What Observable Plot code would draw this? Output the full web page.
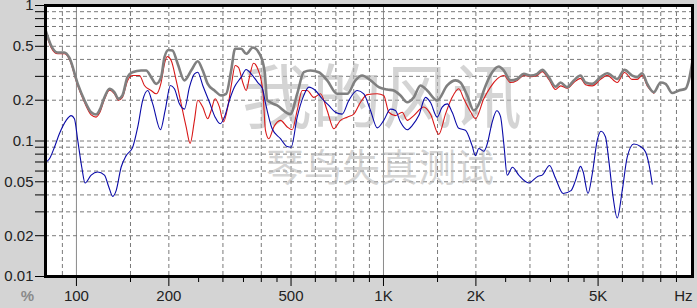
<!DOCTYPE html>
<html>
<head>
<meta charset="utf-8">
<script src="https://cdn.jsdelivr.net/npm/d3@7"></script>
<script src="https://cdn.jsdelivr.net/npm/@observablehq/plot@0.6"></script>
<style>
  html, body { margin: 0; padding: 0; background: #d4d4d4; }
  #chart { width: 697px; height: 308px; overflow: hidden; }
  svg { display: block; }
</style>
</head>
<body>
<div id="chart"></div>
<script>
// ---- data (frequency in Hz, value in %) ----
const grayFreq = [79.5, 82.7, 86.9, 91.4, 94.9, 101, 106.2, 111.7, 115.9, 118.8, 123.4, 128.1, 133, 137, 141.2, 146.6, 152.2, 162.5, 168.7, 175.1, 181.8, 188.7, 193.5, 199.4, 205.5, 213.8, 224.8, 236.4, 248.4, 257.9, 267.7, 281.6, 296.1, 307.4, 319.1, 328.8, 344, 357.2, 375.3, 394.7, 409.8, 418.2, 450.5, 497.8, 523.6, 550.2, 578.5, 615.6, 655.6, 706.8, 761.7, 810.6, 852.4, 907.3, 965.4, 1028, 1080, 1136, 1195, 1255, 1320, 1388, 1496, 1613, 1716, 1781, 1873, 1968, 2070, 2122, 2260, 2375, 2466, 2592, 2726, 2864, 3012, 3168, 3289, 3455, 3634, 3773, 3966, 4168, 4383, 4550, 4785, 5092, 5353, 5771, 6095, 6458, 6705, 6962, 7228, 7596, 7987, 8293, 8717, 9161, 9632, 9874, 10130];
const grayVal = [0.65, 0.507, 0.45, 0.45, 0.41, 0.264, 0.2, 0.163, 0.157, 0.168, 0.21, 0.243, 0.229, 0.205, 0.217, 0.296, 0.322, 0.331, 0.331, 0.296, 0.264, 0.296, 0.415, 0.47, 0.466, 0.37, 0.28, 0.331, 0.388, 0.331, 0.264, 0.236, 0.217, 0.223, 0.331, 0.48, 0.48, 0.44, 0.49, 0.44, 0.33, 0.2, 0.183, 0.158, 0.223, 0.322, 0.331, 0.322, 0.28, 0.223, 0.223, 0.28, 0.304, 0.28, 0.25, 0.24, 0.236, 0.217, 0.193, 0.21, 0.257, 0.236, 0.199, 0.257, 0.28, 0.27, 0.217, 0.168, 0.2, 0.236, 0.322, 0.355, 0.331, 0.28, 0.287, 0.313, 0.304, 0.313, 0.335, 0.296, 0.252, 0.27, 0.25, 0.28, 0.304, 0.27, 0.264, 0.296, 0.316, 0.287, 0.335, 0.304, 0.296, 0.316, 0.264, 0.229, 0.27, 0.264, 0.226, 0.236, 0.243, 0.28, 0.38];

const redFreq = [79.5, 82.7, 86.9, 91.4, 94.9, 101, 106.2, 111.7, 115.9, 118.8, 123.4, 128.1, 133, 137, 141.2, 146.9, 152.5, 160.4, 166.5, 175.1, 181.8, 188.7, 193.5, 197.5, 203.5, 211.3, 219.3, 227.7, 234.6, 242.3, 248.4, 257.9, 267.7, 274.7, 283, 292.3, 301.2, 311, 320.5, 328.8, 337.1, 348.1, 357.2, 366.1, 377.3, 389.7, 404.5, 412.8, 423.2, 439.3, 461.9, 485.7, 504.3, 523.6, 543.7, 564.4, 592.9, 623.4, 655.6, 689, 724.4, 761.7, 800.5, 841.7, 885, 954.4, 1002, 1041, 1094, 1151, 1195, 1255, 1353, 1422, 1514, 1592, 1674, 1759, 1826, 1920, 1993, 2122, 2231, 2346, 2466, 2592, 2726, 2864, 3012, 3168, 3289, 3455, 3634, 3773, 3966, 4168, 4383, 4550, 4785, 5092, 5353, 5771, 6095, 6458, 6705, 6962, 7228, 7596];
const redVal = [0.63, 0.49, 0.44, 0.44, 0.4, 0.255, 0.193, 0.156, 0.15, 0.16, 0.203, 0.237, 0.223, 0.2, 0.21, 0.28, 0.304, 0.304, 0.257, 0.236, 0.223, 0.27, 0.37, 0.42, 0.393, 0.28, 0.188, 0.127, 0.096, 0.142, 0.2, 0.178, 0.146, 0.168, 0.205, 0.178, 0.138, 0.178, 0.27, 0.361, 0.35, 0.27, 0.236, 0.296, 0.375, 0.34, 0.236, 0.12, 0.104, 0.127, 0.142, 0.127, 0.121, 0.168, 0.236, 0.236, 0.21, 0.223, 0.168, 0.123, 0.142, 0.15, 0.158, 0.193, 0.22, 0.223, 0.217, 0.163, 0.154, 0.163, 0.142, 0.154, 0.178, 0.158, 0.112, 0.158, 0.21, 0.243, 0.205, 0.165, 0.146, 0.205, 0.25, 0.287, 0.304, 0.27, 0.28, 0.305, 0.298, 0.305, 0.325, 0.285, 0.24, 0.255, 0.245, 0.27, 0.29, 0.26, 0.255, 0.285, 0.305, 0.27, 0.32, 0.285, 0.285, 0.305, 0.255, 0.225];

const blueFreq = [79.5, 81.7, 84.8, 88, 92.6, 96.1, 98.5, 101, 104.1, 106.7, 111.7, 117.3, 123.4, 127.4, 131.3, 134.7, 139.8, 145.2, 152.5, 158.4, 164.4, 170.7, 177.2, 187.8, 194.5, 202.4, 208.5, 216.5, 224.8, 233.4, 242.3, 248.4, 257.9, 271.2, 283, 293.9, 303.5, 315.1, 327.1, 344, 357.2, 370.7, 389.7, 403.6, 412.8, 434, 461.9, 485.7, 500.3, 523.6, 550.2, 571.2, 600.4, 631.4, 663.7, 697.6, 733.6, 770.9, 821.1, 862.7, 907.3, 954.4, 1002, 1054, 1094, 1136, 1195, 1240, 1303, 1371, 1422, 1496, 1553, 1613, 1674, 1759, 1849, 1945, 1993, 2044, 2122, 2177, 2260, 2339, 2405, 2466, 2529, 2631, 2758, 2974, 3187, 3289, 3473, 3634, 3848, 4080, 4220, 4383, 4472, 4636, 4785, 4968, 5111, 5286, 5418, 5601, 5771, 5992, 6221, 6537, 6873, 7137, 7316, 7504];
const blueVal = [0.07, 0.074, 0.09, 0.113, 0.142, 0.154, 0.146, 0.101, 0.064, 0.049, 0.056, 0.059, 0.056, 0.046, 0.039, 0.043, 0.064, 0.078, 0.09, 0.127, 0.2, 0.236, 0.188, 0.121, 0.168, 0.257, 0.243, 0.188, 0.172, 0.25, 0.313, 0.322, 0.257, 0.193, 0.15, 0.134, 0.15, 0.2, 0.25, 0.296, 0.337, 0.313, 0.27, 0.243, 0.19, 0.123, 0.104, 0.091, 0.09, 0.15, 0.217, 0.25, 0.236, 0.205, 0.183, 0.163, 0.158, 0.199, 0.236, 0.223, 0.168, 0.125, 0.142, 0.172, 0.168, 0.138, 0.121, 0.13, 0.154, 0.21, 0.193, 0.15, 0.178, 0.188, 0.163, 0.124, 0.12, 0.092, 0.078, 0.088, 0.084, 0.095, 0.138, 0.167, 0.152, 0.095, 0.056, 0.064, 0.056, 0.049, 0.055, 0.056, 0.066, 0.053, 0.041, 0.043, 0.051, 0.065, 0.059, 0.041, 0.057, 0.101, 0.118, 0.107, 0.072, 0.038, 0.027, 0.043, 0.076, 0.095, 0.091, 0.083, 0.068, 0.048];

// ---- axis ticks & labels ----
const xDomain = [79.3, 10150];
const yDomain = [0.01, 1];
const xMajorTicks = [100, 200, 500, 1000, 2000, 5000];
const xMajorLabels = ["100", "200", "500", "1K", "2K", "5K"];
const xMinorTicks = [150, 250, 300, 350, 400, 450, 600, 700, 800, 900, 1500, 2500, 3000, 3500, 4000, 4500, 6000, 7000, 8000, 9000];
const xGridDashed = [90, 150, 200, 300, 400, 500, 600, 700, 800, 900, 1500, 2000, 3000, 4000, 5000, 6000, 7000, 8000, 9000];
const xGridSolid = [100, 1000];
const yAllTicks = [0.01, 0.02, 0.03, 0.04, 0.05, 0.06, 0.07, 0.08, 0.09, 0.1, 0.2, 0.3, 0.4, 0.5, 0.6, 0.7, 0.8, 0.9, 1];
const yLabelTicks = [0.01, 0.02, 0.05, 0.1, 0.2, 0.5, 1];
const yLabels = ["0.01", "0.02", "0.05", "0.1", "0.2", "0.5", "1"];
const yGrid = [0.02, 0.03, 0.04, 0.05, 0.06, 0.07, 0.08, 0.09, 0.1, 0.2, 0.3, 0.4, 0.5, 0.6, 0.7, 0.8, 0.9];
const xUnit = "Hz";
const yUnit = "%";
const watermark1 = "我的风讯";
const watermark2 = "琴鸟失真测试";

const toRows = (fs, vs) => fs.map((f, i) => ({f, v: vs[i]}));
const gray = toRows(grayFreq, grayVal);
const red = toRows(redFreq, redVal);
const blue = toRows(blueFreq, blueVal);
const xLabelRows = xMajorTicks.map((t, i) => ({t, label: xMajorLabels[i]}));
const yLabelRows = yLabelTicks.map((t, i) => ({t, label: yLabels[i]}));

const FONT = "'Liberation Sans', Arial, sans-serif";

const chart = Plot.plot({
  width: 697,
  height: 308,
  marginLeft: 45,
  marginRight: 5,
  marginTop: 5,
  marginBottom: 32,
  style: {background: "transparent", fontFamily: FONT, fontSize: "15px", color: "#222"},
  x: {type: "log", domain: xDomain, axis: null},
  y: {type: "log", domain: yDomain, axis: null},
  marks: [
    Plot.frame({fill: "white"}),
    Plot.ruleX(xGridDashed, {stroke: "#7a7a7a", strokeDasharray: "4,3", strokeWidth: 1}),
    Plot.ruleX(xGridSolid, {stroke: "#8a8a8a", strokeWidth: 1}),
    Plot.ruleY(yGrid, {stroke: "#7a7a7a", strokeDasharray: "4,3", strokeWidth: 1}),
    Plot.text([watermark1], {frameAnchor: "middle", dx: 13, dy: -40, fontSize: 70, fill: "#b8b8b8", fillOpacity: 0.6, fontFamily: "'Noto Sans CJK SC', sans-serif"}),
    Plot.text([watermark2], {frameAnchor: "middle", dx: 11, dy: 28, fontSize: 38, fill: "#b8b8b8", fillOpacity: 0.6, fontFamily: "'Noto Sans CJK SC', sans-serif"}),
    Plot.line(red, {x: "f", y: "v", stroke: "#d81818", strokeWidth: 1.1, curve: "monotone-x"}),
    Plot.line(gray, {x: "f", y: "v", stroke: "#808080", strokeWidth: 2.6, curve: "monotone-x"}),
    Plot.line(blue, {x: "f", y: "v", stroke: "#0a0aa8", strokeWidth: 1.1, curve: "monotone-x"}),
    Plot.frame({stroke: "black", strokeWidth: 3}),
    Plot.axisX(xMinorTicks, {anchor: "bottom", tickSize: 6, tickFormat: () => "", stroke: "black", label: null}),
    Plot.axisX(xMajorTicks, {anchor: "bottom", tickSize: 10, tickFormat: () => "", stroke: "black", label: null}),
    Plot.axisY(yAllTicks, {anchor: "left", tickSize: 10, tickFormat: () => "", stroke: "black", label: null}),
    Plot.text(xLabelRows, {x: "t", text: "label", frameAnchor: "bottom", lineAnchor: "top", dy: 14, fontSize: 15, fill: "#222"}),
    Plot.text(yLabelRows, {y: "t", text: "label", frameAnchor: "left", textAnchor: "end", dx: -12, fontSize: 15, fill: "#222"}),
    Plot.text([xUnit], {frameAnchor: "bottom-right", textAnchor: "end", lineAnchor: "top", dy: 14, fontSize: 15, fill: "#222"}),
    Plot.text([yUnit], {frameAnchor: "bottom-left", textAnchor: "middle", lineAnchor: "top", dx: -18, dy: 14, fontSize: 15, fontWeight: "bold", fill: "#8a8a8a"})
  ]
});
document.getElementById("chart").appendChild(chart);
</script>
</body>
</html>
